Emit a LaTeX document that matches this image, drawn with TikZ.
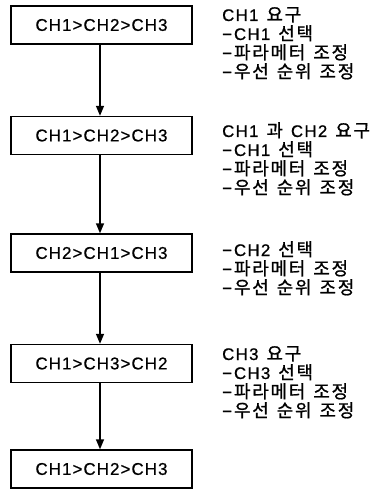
\documentclass[tikz,border=0pt]{standalone}
\usepackage{fontspec}
\setmainfont{Liberation Sans}
\newfontfamily\boxfont{Liberation Sans}[LetterSpace=6, FakeBold=0.6]
\newfontfamily\latfont{Liberation Sans}[Scale=1.05, LetterSpace=8, FakeBold=0.8]
\newfontfamily\krfont{Noto Sans CJK KR}[Scale=1.12, LetterSpace=10, FakeBold=1]
\usetikzlibrary{arrows.meta}

% Latin and Hangul runs of the side notes
\newcommand\la[1]{{\latfont #1}}
\newcommand\kr[1]{{\krfont #1}}
\newcommand\gap{\hspace{8pt}}
\newcommand\dash{\la{−}\hspace{2pt}}

\tikzset{
  stagebox/.style={draw, line width=1.4pt, minimum width=181pt, minimum height=38pt,
    inner sep=0pt, font=\boxfont\fontsize{17}{20}\selectfont},
  note/.style={anchor=base west, inner sep=0pt, font=\fontsize{16}{18}\selectfont},
  flow/.style={line width=1.4pt, -{Triangle[length=10pt,width=8pt]}}
}

\begin{document}
\begin{tikzpicture}[x=1pt,y=-1pt]
\useasboundingbox (0,0) rectangle (371,489);

% priority states
\node[stagebox] (b1) at (101.5,25)    {CH1>CH2>CH3};
\node[stagebox] (b2) at (101.5,135.5) {CH1>CH2>CH3};
\node[stagebox] (b3) at (101.5,253)   {CH2>CH1>CH3};
\node[stagebox] (b4) at (101.5,363.5) {CH1>CH3>CH2};
\node[stagebox] (b5) at (101.5,469)   {CH1>CH2>CH3};

% transitions
\draw[flow] (b1.south -| 100,0) -- (b2.north -| 100,0);
\draw[flow] (b2.south -| 100,0) -- (b3.north -| 100,0);
\draw[flow] (b3.south -| 100,0) -- (b4.north -| 100,0);
\draw[flow] (b4.south -| 100,0) -- (b5.north -| 100,0);

% notes for the first step
\node[note] (a1) at (222,21)  {\la{CH1}\gap\kr{요구}};
\node[note] (a2) at (222,40)  {\dash\la{CH1}\gap\kr{선택}};
\node[note] (a3) at (222,59)  {\dash\kr{파라메터}\gap\kr{조정}};
\node[note] (a4) at (222,78)  {\dash\kr{우선}\gap\kr{순위}\gap\kr{조정}};

% notes for the second step
\node[note] (c1) at (222,137) {\la{CH1}\gap\kr{과}\gap\la{CH2}\gap\kr{요구}};
\node[note] (c2) at (222,156) {\dash\la{CH1}\gap\kr{선택}};
\node[note] (c3) at (222,175) {\dash\kr{파라메터}\gap\kr{조정}};
\node[note] (c4) at (222,194) {\dash\kr{우선}\gap\kr{순위}\gap\kr{조정}};

% notes for the third step
\node[note] (d1) at (222,256) {\dash\la{CH2}\gap\kr{선택}};
\node[note] (d2) at (222,275) {\dash\kr{파라메터}\gap\kr{조정}};
\node[note] (d3) at (222,294) {\dash\kr{우선}\gap\kr{순위}\gap\kr{조정}};

% notes for the fourth step
\node[note] (e1) at (222,360) {\la{CH3}\gap\kr{요구}};
\node[note] (e2) at (222,379) {\dash\la{CH3}\gap\kr{선택}};
\node[note] (e3) at (222,398) {\dash\kr{파라메터}\gap\kr{조정}};
\node[note] (e4) at (222,417) {\dash\kr{우선}\gap\kr{순위}\gap\kr{조정}};
\end{tikzpicture}
\end{document}
